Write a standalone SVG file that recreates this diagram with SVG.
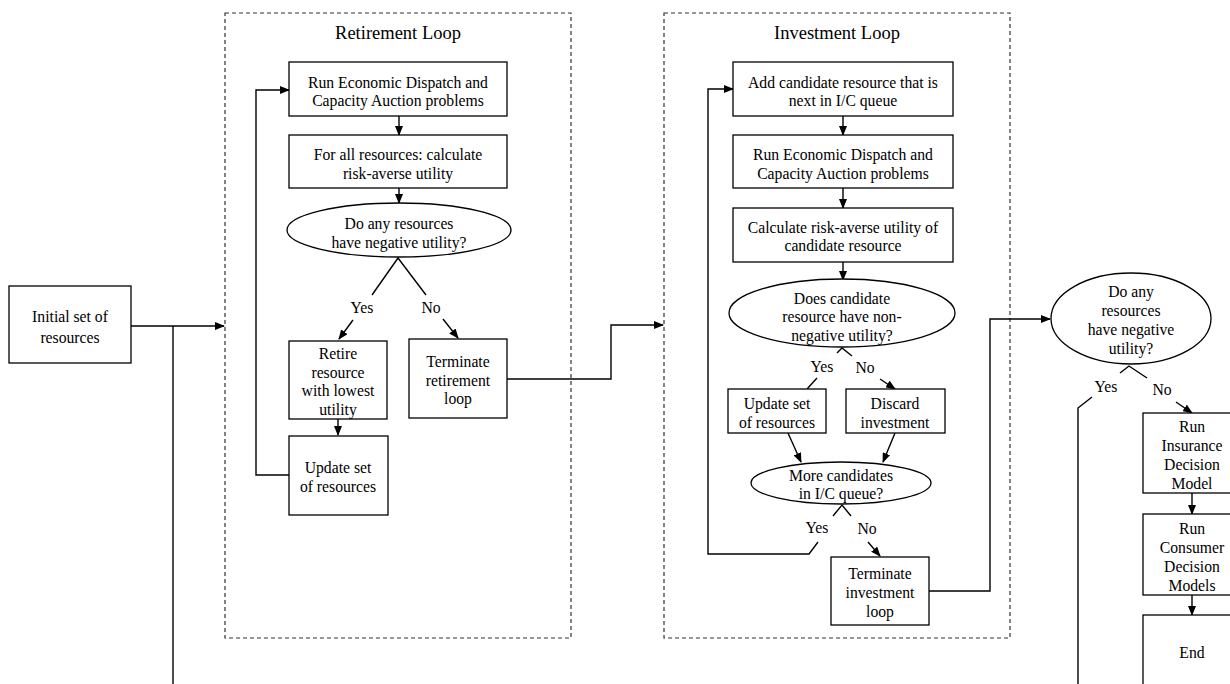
<svg xmlns="http://www.w3.org/2000/svg" width="1230" height="684" viewBox="0 0 1230 684">
<defs>
<marker id="ah" markerWidth="10" markerHeight="8" refX="9" refY="4" orient="auto" markerUnits="userSpaceOnUse">
<path d="M0,0 L10,4 L0,8 Z" fill="#000"/>
</marker>
<style>
.box{fill:#fff;stroke:#000;stroke-width:1.3}
.cont{fill:none;stroke:#333;stroke-width:1.2;stroke-dasharray:4,3}
.c{fill:none;stroke:#000;stroke-width:1.4}
.a{fill:none;stroke:#000;stroke-width:1.4;marker-end:url(#ah)}
text{font-family:"Liberation Serif","Times New Roman",serif;font-size:15.7px;fill:#000;text-anchor:middle}
.title{font-size:18.5px}
</style>
</defs>
<rect width="1230" height="684" fill="#fff"/>

<g id="retirement-loop">
<rect class="cont" x="225" y="13" width="346" height="625"/>
<text class="title" x="398" y="39">Retirement Loop</text>
</g>
<g id="investment-loop">
<rect class="cont" x="664" y="13" width="346" height="625"/>
<text class="title" x="837" y="39">Investment Loop</text>
</g>

<g id="connectors">
<path class="a" d="M131,326 H224"/>
<path class="c" d="M173,326 V684"/>
<path class="a" d="M399,116 V135"/>
<path class="a" d="M399,188 V203"/>
<path class="c" d="M372,295 L398,258 L426,295"/>
<path class="a" d="M353,320 L339,339"/>
<path class="a" d="M443,319 L458,338"/>
<path class="a" d="M338,419 V435"/>
<path class="a" d="M290,475 H256 V90 H289"/>
<path class="a" d="M507,379 H611 V325 H663"/>

<path class="a" d="M843,116 V135"/>
<path class="a" d="M843,188 V208"/>
<path class="a" d="M843,262 V280"/>
<path class="c" d="M837,353 L842,348 L852,356"/>
<path class="c" d="M817,378 L807,389"/>
<path class="a" d="M880,379 L895,389"/>
<path class="a" d="M788,433 L801,462"/>
<path class="a" d="M895,433 L883,462"/>
<path class="c" d="M833,516 L842,505 L851,516"/>
<path class="a" d="M818,542 L809,554 H708 V89 H733"/>
<path class="a" d="M868,542 L880,556"/>
<path class="a" d="M929,591 H990 V319 H1050"/>

<path class="c" d="M1120,373 L1129,366 L1147,378"/>
<path class="c" d="M1092,397 L1078,408 V684"/>
<path class="a" d="M1176,402 L1192,413"/>
<path class="a" d="M1192,493 V514"/>
<path class="a" d="M1192,595 V615"/>
</g>

<g id="initial">
<rect class="box" x="9" y="286" width="122" height="77"/>
<text x="70" y="322">Initial set of</text>
<text x="70" y="343">resources</text>
</g>

<g id="ret-run">
<rect class="box" x="289" y="62" width="218" height="54"/>
<text x="398" y="87.5">Run Economic Dispatch and</text>
<text x="398" y="105.5">Capacity Auction problems</text>
</g>
<g id="ret-calc">
<rect class="box" x="289" y="135" width="218" height="53"/>
<text x="398" y="159.5">For all resources: calculate</text>
<text x="398" y="178.5">risk-averse utility</text>
</g>
<g id="ret-decision">
<ellipse class="box" cx="399" cy="230" rx="112" ry="27"/>
<text x="399" y="229">Do any resources</text>
<text x="399" y="248">have negative utility?</text>
</g>
<text x="362" y="313">Yes</text>
<text x="431" y="313">No</text>
<g id="ret-retire">
<rect class="box" x="289" y="341" width="98" height="78"/>
<text x="338" y="358.5">Retire</text>
<text x="338" y="377.5">resource</text>
<text x="338" y="395.5">with lowest</text>
<text x="338" y="414.5">utility</text>
</g>
<g id="ret-terminate">
<rect class="box" x="409" y="339" width="98" height="79"/>
<text x="458" y="366.5">Terminate</text>
<text x="458" y="385.5">retirement</text>
<text x="458" y="403.5">loop</text>
</g>
<g id="ret-update">
<rect class="box" x="289" y="436" width="99" height="79"/>
<text x="338" y="472.5">Update set</text>
<text x="338" y="491.5">of resources</text>
</g>

<g id="inv-add">
<rect class="box" x="733" y="62" width="220" height="54"/>
<text x="843" y="87.5">Add candidate resource that is</text>
<text x="843" y="105.5">next in I/C queue</text>
</g>
<g id="inv-run">
<rect class="box" x="733" y="135" width="220" height="53"/>
<text x="843" y="159.5">Run Economic Dispatch and</text>
<text x="843" y="178.5">Capacity Auction problems</text>
</g>
<g id="inv-calc">
<rect class="box" x="733" y="208" width="220" height="54"/>
<text x="843" y="232.5">Calculate risk-averse utility of</text>
<text x="843" y="250.5">candidate resource</text>
</g>
<g id="inv-decision">
<ellipse class="box" cx="842" cy="313" rx="113" ry="34"/>
<text x="842" y="303.5">Does candidate</text>
<text x="842" y="321.5">resource have non-</text>
<text x="842" y="340.5">negative utility?</text>
</g>
<text x="822" y="372">Yes</text>
<text x="865" y="373">No</text>
<g id="inv-update">
<rect class="box" x="728" y="389" width="98" height="44"/>
<text x="777" y="408.5">Update set</text>
<text x="777" y="427.5">of resources</text>
</g>
<g id="inv-discard">
<rect class="box" x="846" y="389" width="99" height="44"/>
<text x="895" y="408.5">Discard</text>
<text x="895" y="427.5">investment</text>
</g>
<g id="inv-more">
<ellipse class="box" cx="841" cy="483" rx="90" ry="21"/>
<text x="841" y="480.5">More candidates</text>
<text x="841" y="498.5">in I/C queue?</text>
</g>
<text x="817" y="533">Yes</text>
<text x="867" y="534">No</text>
<g id="inv-terminate">
<rect class="box" x="831" y="557" width="98" height="68"/>
<text x="880" y="578.5">Terminate</text>
<text x="880" y="597.5">investment</text>
<text x="880" y="616.5">loop</text>
</g>

<g id="final-decision">
<ellipse class="box" cx="1131" cy="318.5" rx="80" ry="45.5"/>
<text x="1131" y="296.5">Do any</text>
<text x="1131" y="315.5">resources</text>
<text x="1131" y="334.5">have negative</text>
<text x="1131" y="353.5">utility?</text>
</g>
<text x="1106" y="392">Yes</text>
<text x="1162" y="395">No</text>
<g id="insurance">
<rect class="box" x="1143" y="413" width="100" height="80"/>
<text x="1192" y="431.5">Run</text>
<text x="1192" y="450.5">Insurance</text>
<text x="1192" y="469.5">Decision</text>
<text x="1192" y="488.5">Model</text>
</g>
<g id="consumer">
<rect class="box" x="1143" y="514" width="100" height="81"/>
<text x="1192" y="533.5">Run</text>
<text x="1192" y="552.5">Consumer</text>
<text x="1192" y="571.5">Decision</text>
<text x="1192" y="590.5">Models</text>
</g>
<g id="end">
<rect class="box" x="1143" y="615" width="100" height="80"/>
<text x="1192" y="657.5">End</text>
</g>
</svg>
